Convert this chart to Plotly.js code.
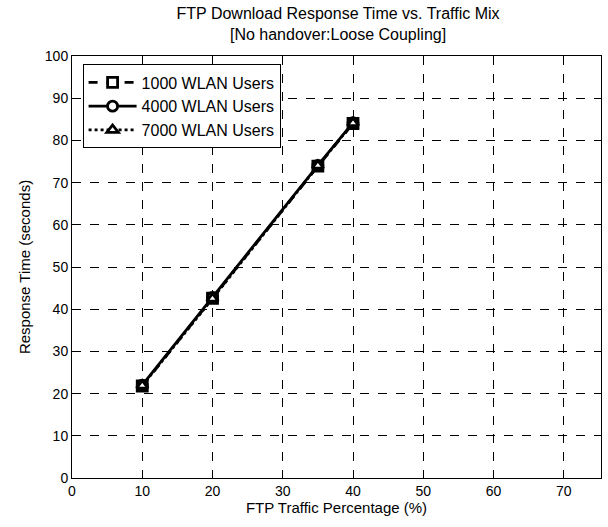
<!DOCTYPE html>
<html>
<head>
<meta charset="utf-8">
<script src="https://cdn.plot.ly/plotly-3.0.1.min.js"></script>
<style>html,body{margin:0;padding:0;background:#fff;}#chart{width:608px;height:527px;}</style>
</head>
<body>
<div id="chart"></div>
<script>
const ftpPercent = [10, 20, 35, 40];
const users1000 = [21.8, 42.6, 73.9, 84.0];
const users4000 = [22.0, 42.8, 74.1, 84.2];
const users7000 = [21.9, 42.5, 74.0, 84.1];
const seriesNames = ['1000 WLAN Users', '4000 WLAN Users', '7000 WLAN Users'];
const xTicks = [0, 10, 20, 30, 40, 50, 60, 70];
const yTicks = [0, 10, 20, 30, 40, 50, 60, 70, 80, 90, 100];

const fam = 'Liberation Sans, Arial, sans-serif';
const tickFont = {family: fam, size: 14, color: '#000'};
const labFont = {family: fam, size: 15, color: '#000'};
function tr(y, name, dash, symbol) {
  return {x: ftpPercent, y: y, name: name, type: 'scatter', mode: 'lines+markers',
    line: {color: '#000', width: 2.8, dash: dash},
    marker: {symbol: symbol, size: 10, color: '#fff', line: {color: '#000', width: 2.8}}};
}
const data = [
  tr(users1000, seriesNames[0], 'dash', 'square'),
  tr(users4000, seriesNames[1], 'solid', 'circle'),
  tr(users7000, seriesNames[2], 'dot', 'triangle-up')
];
const axisCommon = {showline: true, mirror: true, linecolor: '#000', linewidth: 1,
  ticks: 'inside', ticklen: 5, tickcolor: '#000', showgrid: true, gridcolor: '#000',
  griddash: 'dash', gridwidth: 1, zeroline: false, tickfont: tickFont};
const layout = {
  width: 608, height: 527,
  margin: {l: 72, r: 7, t: 56, b: 49},
  paper_bgcolor: '#fff', plot_bgcolor: '#fff',
  font: labFont,
  showlegend: true,
  title: {text: 'FTP Download Response Time vs. Traffic Mix<br>[No handover:Loose Coupling]',
    font: {family: fam, size: 16, color: '#000'},
    x: 0.556, xanchor: 'center', y: 0.964, yanchor: 'top'},
  xaxis: Object.assign({}, axisCommon, {range: [0, 75.3], tickvals: xTicks,
    title: {text: 'FTP Traffic Percentage (%)', font: labFont, standoff: 4}}),
  yaxis: Object.assign({}, axisCommon, {range: [0, 100], tickvals: yTicks,
    title: {text: 'Response Time (seconds)', font: labFont, standoff: 10}}),
  legend: {x: 0.02, y: 0.98, xanchor: 'left', yanchor: 'top', bgcolor: '#fff',
    bordercolor: '#000', borderwidth: 1, font: {family: fam, size: 16, color: '#000'},
    itemwidth: 48, tracegroupgap: 0}
};
Plotly.newPlot('chart', data, layout, {displayModeBar: false, staticPlot: true});
</script>
</body>
</html>
